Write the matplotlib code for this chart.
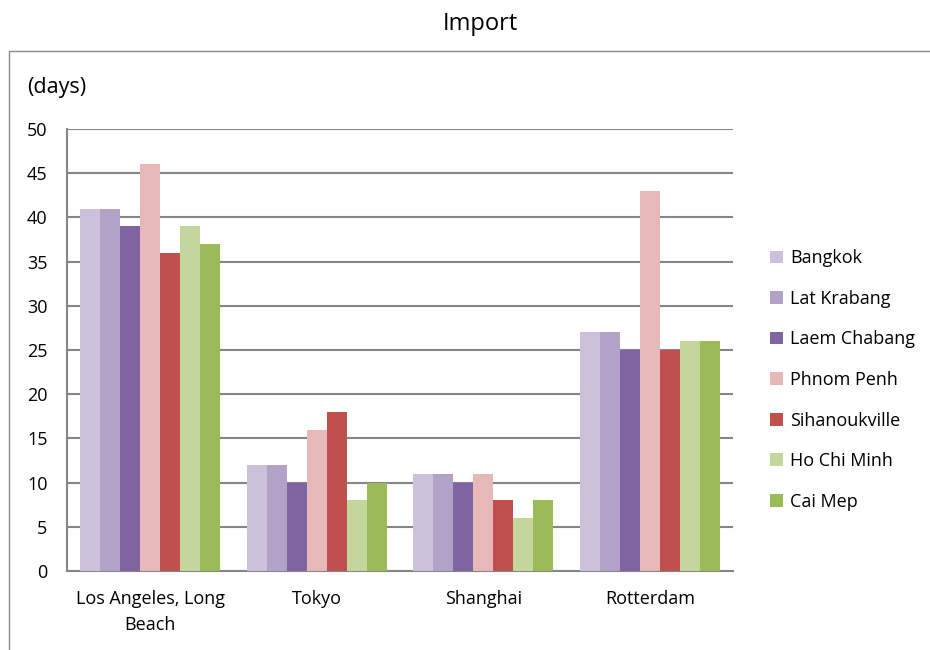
import numpy as np
import matplotlib.pyplot as plt
from matplotlib.patches import Rectangle

plt.rcParams['font.family'] = ['Open Sans', 'DejaVu Sans']

ports = ['Los Angeles, Long\nBeach', 'Tokyo', 'Shanghai', 'Rotterdam']
origins = ['Bangkok', 'Lat Krabang', 'Laem Chabang', 'Phnom Penh',
           'Sihanoukville', 'Ho Chi Minh', 'Cai Mep']
bangkok = [41, 12, 11, 27]
lat_krabang = [41, 12, 11, 27]
laem_chabang = [39, 10, 10, 25]
phnom_penh = [46, 16, 11, 43]
sihanoukville = [36, 18, 8, 25]
ho_chi_minh = [39, 8, 6, 26]
cai_mep = [37, 10, 8, 26]
series = [bangkok, lat_krabang, laem_chabang, phnom_penh,
          sihanoukville, ho_chi_minh, cai_mep]
colors = ['#CCC1DA', '#B3A2C7', '#8064A2', '#E6B9B8',
          '#C0504D', '#C3D69B', '#9BBB59']

fig = plt.figure(figsize=(9.3, 6.5), dpi=100)
ax = fig.add_axes([67/930, 1-571/650, (733-67)/930, (571-129)/650])

x = np.arange(len(ports))
w = 0.12
for i, (vals, c) in enumerate(zip(series, colors)):
    ax.bar(x + (i - 3) * w, vals, w, color=c, label=origins[i], zorder=3)

ax.set_xlim(-0.5, 3.5)
ax.set_ylim(0, 50)
ax.set_yticks(range(0, 51, 5))
ax.set_xticks(x)
ax.set_xticklabels(ports, linespacing=1.55)
ax.grid(axis='y', color='#868686', linewidth=1.5, zorder=0)
for s in ['top', 'right']:
    ax.spines[s].set_visible(False)
for s in ['left', 'bottom']:
    ax.spines[s].set_color('#868686')
    ax.spines[s].set_linewidth(1.5)
ax.tick_params(axis='y', length=0, pad=14, labelsize=13)
ax.tick_params(axis='x', length=0, pad=14, labelsize=13)

fig.text(0.517, 1-24/650, 'Import', ha='center', va='center', fontsize=17)
fig.text(27/930, 1-87/650, '(days)', ha='left', va='center', fontsize=15.5)

# outer chart border
fig.add_artist(Rectangle((8.5/930, -0.1), 2, 1.1 - 51.5/650, transform=fig.transFigure,
                         fill=False, edgecolor='#868686', linewidth=1, clip_on=False))

ax.legend(loc='center left', bbox_to_anchor=(770/930, 1-380/650),
          bbox_transform=fig.transFigure, frameon=False, fontsize=13,
          handlelength=0.7, handleheight=0.7, handletextpad=0.4,
          labelspacing=1.25, borderpad=0, borderaxespad=0)

fig.savefig('out.png', dpi=100)
